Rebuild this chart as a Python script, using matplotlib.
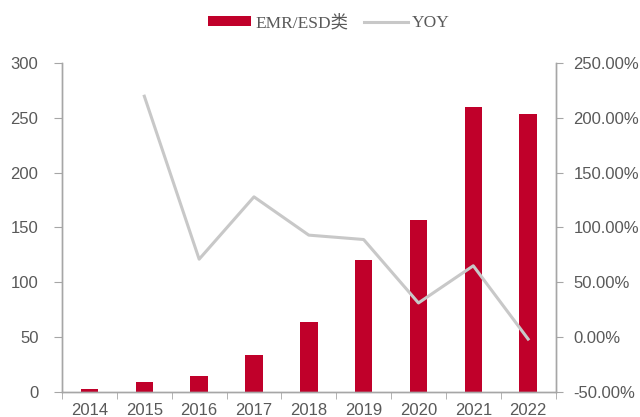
import matplotlib
matplotlib.use("Agg")
import matplotlib.pyplot as plt
import numpy as np
from matplotlib.ticker import FuncFormatter, FixedLocator

years = ["2014", "2015", "2016", "2017", "2018", "2019", "2020", "2021", "2022"]
emr_esd = [2.5, 8.3, 14.5, 33, 64, 120, 157, 260, 254]
yoy = [None, 220, 71, 128, 93, 89, 31, 65, -2]

bar_color = "#C0002A"
line_color = "#C8C8C8"
text_color = "#595959"
spine_color = "#A6A6A6"

fig = plt.figure(figsize=(6.4, 4.17), dpi=100)
ax = fig.add_axes([0.097, 0.061, 0.771, 0.787])
ax2 = ax.twinx()

x = np.arange(len(years))
ax.bar(x, emr_esd, width=0.32, color=bar_color, zorder=2, label="EMR/ESD类")

yx = [i for i, v in enumerate(yoy) if v is not None]
yv = [v for v in yoy if v is not None]
ax2.plot(yx, yv, color=line_color, lw=2.2, zorder=3, label="YOY")

ax.set_xlim(-0.5, len(years) - 0.5)
ax.set_ylim(0, 300)
ax.set_yticks(np.arange(0, 301, 50))
ax2.set_ylim(-50, 250)
ax2.set_yticks(np.arange(-50, 251, 50))
ax2.yaxis.set_major_formatter(FuncFormatter(lambda v, p: f"{v:.2f}%"))

ax.set_xticks(x)
ax.set_xticklabels(years)
ax.xaxis.set_minor_locator(FixedLocator(np.arange(-0.5, len(years), 1.0)))
ax.tick_params(axis="x", which="major", length=0, pad=8)
ax.tick_params(axis="x", which="minor", length=5, color=spine_color, direction="out")

font = "Liberation Sans"
fsize = 12
ax.tick_params(axis="y", length=6, color=spine_color, labelcolor=text_color,
               labelsize=fsize, pad=11)
ax2.tick_params(axis="y", length=5, color=spine_color, labelcolor=text_color,
                labelsize=fsize, pad=8)
for a in (ax, ax2):
    for lbl in a.get_yticklabels():
        lbl.set_fontfamily(font)
    a.spines["top"].set_visible(False)
    for s in ("left", "right", "bottom"):
        a.spines[s].set_color(spine_color)
        a.spines[s].set_linewidth(1.0)
ax.tick_params(axis="x", labelcolor=text_color, labelsize=fsize)
for lbl in ax.get_xticklabels():
    lbl.set_fontfamily(font)

h1, l1 = ax.get_legend_handles_labels()
h2, l2 = ax2.get_legend_handles_labels()
leg = fig.legend(h1 + h2, l1 + l2, loc="center", bbox_to_anchor=(0.514, 0.945),
                 ncol=2, frameon=False, handlelength=2.5, handleheight=0.45,
                 columnspacing=0.9, handletextpad=0.25,
                 prop={"family": ["Liberation Serif", "Noto Sans CJK SC"], "size": 12.5})
for t in leg.get_texts():
    t.set_color(text_color)

fig.savefig("out.png", dpi=100)
